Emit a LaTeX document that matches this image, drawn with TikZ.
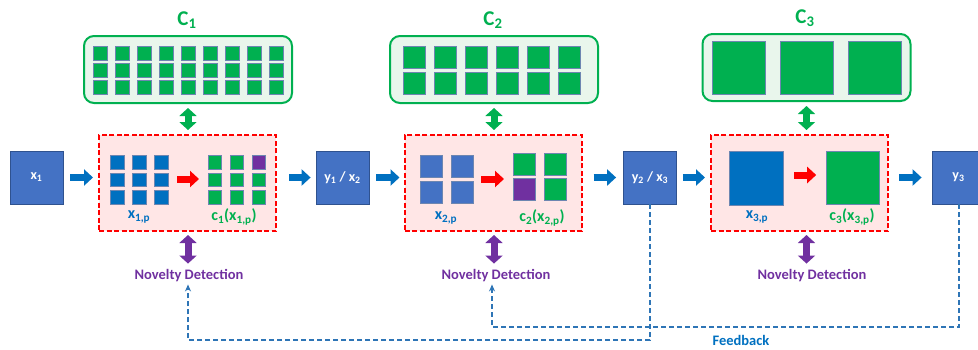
\documentclass[tikz,border=0pt]{standalone}
\usepackage{fontspec}
\setmainfont{Carlito}
\usepackage{tikz}
\usetikzlibrary{arrows.meta}

\definecolor{boxblue}{HTML}{4472C4}
\definecolor{boxedge}{HTML}{2F528F}
\definecolor{sqblue}{HTML}{0070C0}
\definecolor{sqgreen}{HTML}{00B050}
\definecolor{sqpurple}{HTML}{7030A0}
\definecolor{pnlfill}{HTML}{FFE6E6}
\definecolor{bankfill}{HTML}{E9F6EC}
\definecolor{fbblue}{HTML}{2E75B6}

\tikzset{
  blk/.style={draw=boxedge, line width=0.8pt, fill=boxblue, minimum size=53pt, inner sep=0pt, text=white, font=\fontsize{14}{16}\selectfont\bfseries},
  pnl/.style={draw=red, line width=2pt, dash pattern=on 5pt off 2.5pt, fill=pnlfill, minimum width=177pt, minimum height=96pt, inner sep=0pt},
  bank/.style={draw=sqgreen, line width=2pt, fill=bankfill, rounded corners=10pt, minimum width=208pt, minimum height=67pt, inner sep=0pt},
  sq/.style={draw=boxedge!70, line width=0.6pt, minimum size=#1, inner sep=0pt},
  flow/.style={draw=sqblue, line width=7pt, -{Triangle[length=9pt,width=16pt]}, shorten <=8pt, shorten >=6pt},
  redflow/.style={draw=red, line width=7pt, -{Triangle[length=9pt,width=16pt]}, shorten <=8pt, shorten >=9pt},
  dblarr/.style={line width=7pt, {Triangle[length=8pt,width=17pt]}-{Triangle[length=8pt,width=17pt]}, shorten <=4pt, shorten >=4pt},
  clbl/.style={text=sqgreen, font=\fontsize{21}{24}\selectfont\bfseries},
  lbl/.style={font=\fontsize{16}{18}\selectfont\bfseries, inner sep=1pt},
  nov/.style={text=sqpurple, font=\fontsize{14.5}{16}\selectfont\bfseries, inner sep=2pt},
  fbk/.style={draw=fbblue, line width=2pt, dash pattern=on 5pt off 3pt, -{Stealth[length=7pt,width=6pt]}}
}

\begin{document}
\begin{tikzpicture}[x=1pt, y=-1pt]
\useasboundingbox (0,0) rectangle (978,349);
\clip (0,0) rectangle (978,349);

% codebooks
\node[bank] (bank1) at (188,69.5) {};
\node[bank] (bank2) at (494,69.5) {};
\node[bank] (bank3) at (806.5,67.5) {};
\node[clbl] (c1) at (187,20) {C\textsubscript{1}};
\node[clbl] (c2) at (493,20) {C\textsubscript{2}};
\node[clbl] (c3) at (805,18) {C\textsubscript{3}};
\foreach \i in {0,...,8} \foreach \j in {0,1,2}
  \node[sq=14pt, fill=sqgreen] (k1-\i-\j) at (100+22*\i, 53+17*\j) {};
\foreach \i in {0,...,5} \foreach \j in {0,1}
  \node[sq=22pt, fill=sqgreen] (k2-\i-\j) at (414+31*\i, 57.5+26*\j) {};
\foreach \i in {0,1,2}
  \node[sq=53pt, fill=sqgreen] (k3-\i) at (738.5+68*\i, 68) {};

% inputs and outputs
\node[blk] (x1) at (36.5,177.5) {x\textsubscript{1}};
\node[blk] (y1x2) at (342.5,177.5) {y\textsubscript{1} / x\textsubscript{2}};
\node[blk] (y2x3) at (650,177.5) {y\textsubscript{2} / x\textsubscript{3}};
\node[blk] (y3) at (958.5,177.5) {y\textsubscript{3}};

% quantisers
\node[pnl] (pnl1) at (187.5,183) {};
\node[pnl] (pnl2) at (493,183) {};
\node[pnl] (pnl3) at (799.5,183) {};

\foreach \i in {0,1,2} \foreach \j in {0,1,2} {
  \node[sq=13.5pt, fill=sqblue] (b1-\i-\j) at (117.5+22*\i, 162.5+17.5*\j) {};
  \ifnum\i\j=20 \def\col{sqpurple}\else\def\col{sqgreen}\fi
  \node[sq=13.5pt, fill=\col] (g1-\i-\j) at (215+22*\i, 162.5+17.5*\j) {};
}
\foreach \i in {0,1} \foreach \j in {0,1} {
  \node[sq=22pt, fill=boxblue] (b2-\i-\j) at (431+31*\i, 166+26*\j) {};
  \ifnum\i\j=1 \def\col{sqpurple}\else\def\col{sqgreen}\fi
  \node[sq=22pt, fill=\col] (g2-\i-\j) at (524+31*\i, 164+25*\j) {};
}
\node[sq=54pt, fill=sqblue] (b3) at (756,178.5) {};
\node[sq=53pt, fill=sqgreen] (g3) at (853,177.5) {};

\coordinate (r1a) at (169,179);
\coordinate (r1b) at (208,179);
\coordinate (r2a) at (473,179);
\coordinate (r2b) at (513,179);
\draw[redflow] (r1a) -- (r1b);
\draw[redflow] (r2a) -- (r2b);
\draw[redflow, shorten <=11pt, shorten >=10pt] (b3.east |- 0,175) -- (g3.west |- 0,175);

\node[lbl, text=sqblue] (lx1) at (139,217) {x\textsubscript{1,p}};
\node[lbl, text=sqgreen] (lc1) at (234,217) {c\textsubscript{1}(x\textsubscript{1,p})};
\node[lbl, text=sqblue] (lx2) at (446,218) {x\textsubscript{2,p}};
\node[lbl, text=sqgreen] (lc2) at (542,218) {c\textsubscript{2}(x\textsubscript{2,p})};
\node[lbl, text=sqblue] (lx3) at (757,217) {x\textsubscript{3,p}};
\node[lbl, text=sqgreen] (lc3) at (852,217) {c\textsubscript{3}(x\textsubscript{3,p})};

% main flow
\draw[flow, shorten <=7pt, shorten >=5pt] (x1) -- (x1 -| pnl1.west);
\draw[flow, shorten <=12pt, shorten >=5pt] (pnl1.east |- y1x2) -- (y1x2);
\draw[flow, shorten <=7pt, shorten >=4pt] (y1x2) -- (y1x2 -| pnl2.west);
\draw[flow, shorten <=11pt, shorten >=7pt] (pnl2.east |- y2x3) -- (y2x3);
\draw[flow, shorten <=6pt, shorten >=5pt] (y2x3) -- (y2x3 -| pnl3.west);
\draw[flow, shorten <=10pt, shorten >=10pt] (pnl3.east |- y3) -- (y3);

\draw[dblarr, sqgreen] (bank1.south) -- (bank1.south |- pnl1.north);
\draw[dblarr, sqgreen] (bank2.south) -- (bank2.south |- pnl2.north);
\draw[dblarr, sqgreen] (bank3.south) -- (bank3.south |- pnl3.north);

% novelty detection
\node[nov] (nov1) at (189,276) {Novelty Detection};
\node[nov] (nov2) at (496,276) {Novelty Detection};
\node[nov] (nov3) at (812,276) {Novelty Detection};
\draw[dblarr, sqpurple, shorten <=3pt] (bank1.south |- pnl1.south) -- (bank1.south |- nov1.north);
\draw[dblarr, sqpurple, shorten <=3pt] (bank2.south |- pnl2.south) -- (bank2.south |- nov2.north);
\draw[dblarr, sqpurple, shorten <=3pt] (bank3.south |- pnl3.south) -- (bank3.south |- nov3.north);

% feedback
\draw[fbk] (y2x3.south) -- ++(0,136) -| ([xshift=-1pt]nov1.south);
\draw[fbk] (y3.south) -- ++(0,123) -| ([xshift=-4pt]nov2.south);
\node[font=\fontsize{14.5}{16}\selectfont\bfseries, text=sqblue] (fb) at (741,340) {Feedback};
\end{tikzpicture}
\end{document}
